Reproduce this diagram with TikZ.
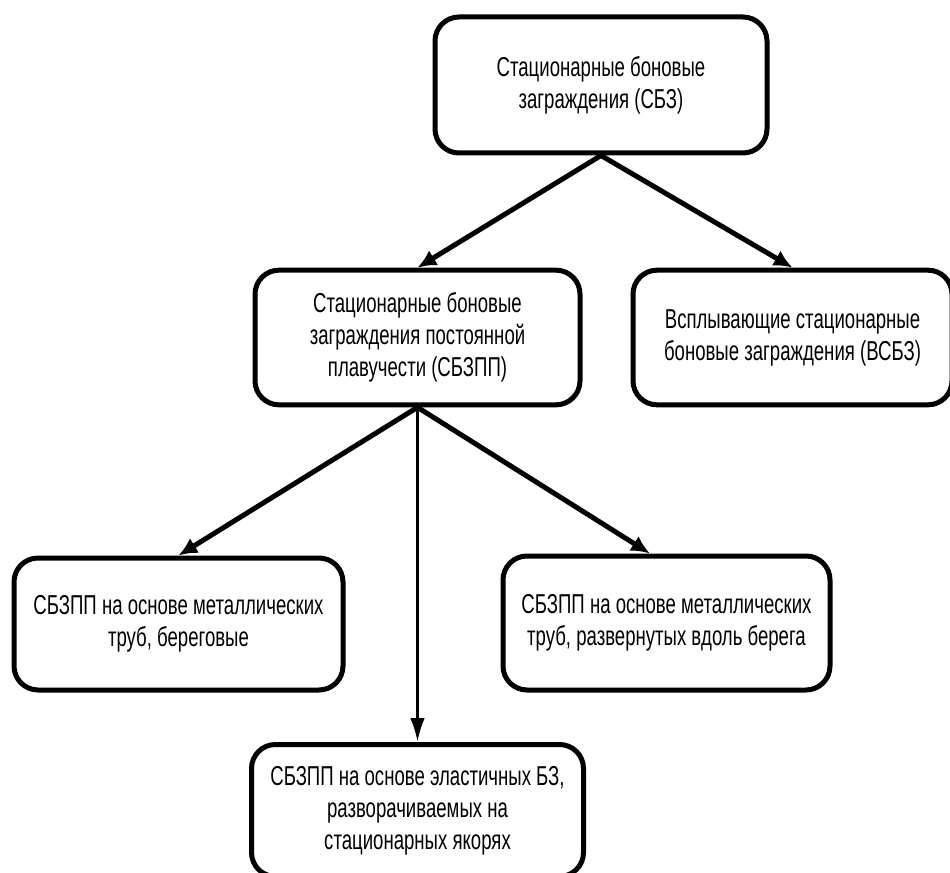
\documentclass[tikz,border=0pt]{standalone}
\usepackage{fontspec}
\setmainfont{Liberation Sans}[FakeStretch=0.68]
\usetikzlibrary{arrows.meta, positioning, calc}
\tikzset{
    block/.style={rectangle, draw, line width=3.75pt, rounded corners=18pt, fill=white, align=center, inner sep=0pt, font=\fontsize{20.5}{24}\selectfont},
    arrow/.style={line width=3.75pt, -{Latex[length=14pt,width=13pt]}},
    thinarrow/.style={line width=2.2pt, -{Latex[length=18pt,width=11pt]}}
}
\begin{document}
\begin{tikzpicture}[x=0.75pt, y=-0.75pt]
    \useasboundingbox (0,0) rectangle (950,873);
    \node[block, minimum width=249pt, minimum height=102pt] (sbz) at (601,85) {Стационарные боновые\\заграждения (СБЗ)};
    \node[block, minimum width=243.75pt, minimum height=101pt] (sbzpp) at (417.5,337.5) {Стационарные боновые\\заграждения постоянной\\плавучести (СБЗПП)};
    \node[block, minimum width=239.25pt, minimum height=101pt, right=36pt of sbzpp] (vsbz) {Всплывающие стационарные\\боновые заграждения (ВСБЗ)};
    \node[block, minimum width=246.75pt, minimum height=99pt] (metbereg) at (178.5,624) {СБЗПП на основе металлических\\труб, береговые};
    \node[block, minimum width=245.25pt, minimum height=100.5pt] (metvdol) at (666.5,623) {СБЗПП на основе металлических\\труб, развернутых вдоль берега};
    \node[block, minimum width=249pt, minimum height=99pt, below=251pt of sbzpp] (elast) {СБЗПП на основе эластичных БЗ,\\разворачиваемых на\\стационарных якорях};

    \draw[arrow] (sbz.south) -- (sbzpp.north);
    \draw[arrow] (sbz.south) -- (vsbz.north);
    \draw[arrow] (sbzpp.south) -- (metbereg.north);
    \draw[thinarrow] (sbzpp.south) -- (elast.north);
    \draw[arrow] (sbzpp.south) -- ($(metvdol.north west)!0.45!(metvdol.north east)$);
\end{tikzpicture}
\end{document}
